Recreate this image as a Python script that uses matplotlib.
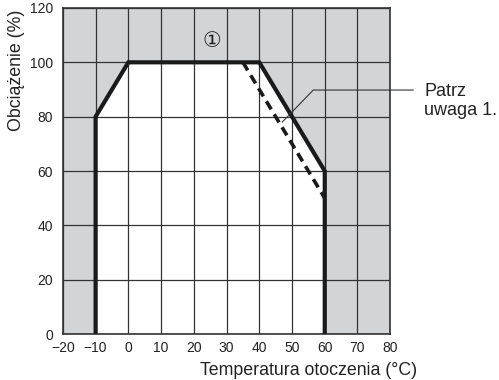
import matplotlib
matplotlib.use("Agg")
from matplotlib import pyplot as plt

plt.rcParams['font.family'] = ['Liberation Sans', 'DejaVu Sans']

# derating curve (solid) and note-1 curve (dashed)
temp = [-10, -10, 0, 40, 60, 60]
load = [0, 80, 100, 100, 60, 0]
temp_note = [35, 60]
load_note = [100, 50]

xticks = [-20, -10, 0, 10, 20, 30, 40, 50, 60, 70, 80]
yticks = [0, 20, 40, 60, 80, 100, 120]

fig = plt.figure(figsize=(4.99, 3.8), dpi=100)
ax = fig.add_axes([0.126, 0.121, 0.656, 0.858])

ax.set_facecolor("#d3d4d6")
ax.fill_between(temp, load, 0, color="white", zorder=1)

ax.set_xlim(-20, 80)
ax.set_ylim(0, 120)
ax.set_xticks(xticks)
ax.set_yticks(yticks)
ax.set_xticklabels([str(t).replace("-", "\u2212") for t in xticks])
ax.tick_params(length=0, labelsize=10, colors="#222222")
ax.tick_params(axis="x", pad=5)
ax.tick_params(axis="y", pad=7)
ax.grid(True, color="#333333", linewidth=0.9, zorder=2)
ax.set_axisbelow(False)
for s in ax.spines.values():
    s.set_color("#333333")
    s.set_linewidth(1.2)

ax.plot(temp, load, color="#1a1a1a", linewidth=3, solid_joinstyle="miter", zorder=4)
ax.plot(temp_note, load_note, color="#1a1a1a", linewidth=2.6,
        dashes=(2.6, 1.6), zorder=4)

# leader line to the note
ax.plot([87, 56.5, 47], [89.8, 89.8, 78], color="#333333", linewidth=0.8,
        clip_on=False, zorder=5)
ax.text(90.4, 85.8, "Patrz\nuwaga 1.", fontsize=13, va="center", ha="left",
        color="#222222", linespacing=1.1)
ax.text(25.6, 107.8, "\u2460", fontsize=15, ha="center", va="center",
        family=['DejaVu Sans'], color="#222222")

ax.set_xlabel("Temperatura otoczenia (°C)", fontsize=12.8, color="#222222")
ax.xaxis.set_label_coords(0.752, -0.086)
ax.set_ylabel("Obciążenie (%)", fontsize=12.8, color="#222222", va="center")
ax.yaxis.set_label_coords(-0.141, 0.81)

fig.savefig("out.png", dpi=100)
